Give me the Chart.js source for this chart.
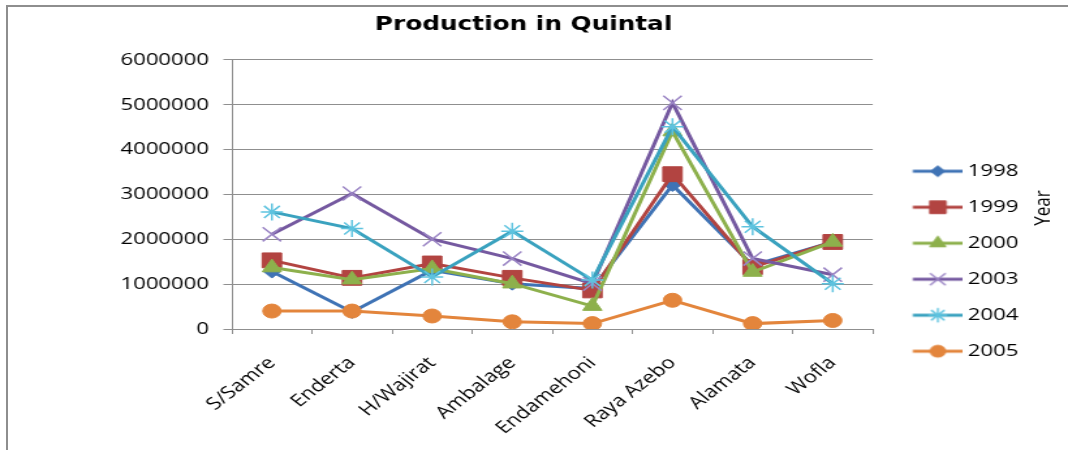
<!DOCTYPE html>
<html>
<head>
<meta charset="utf-8">
<title>Production in Quintal</title>
<script src="https://cdn.jsdelivr.net/npm/chart.js@4/dist/chart.umd.min.js"></script>
<style>
  html, body { margin: 0; padding: 0; background: #fff; }
  #wrap { position: relative; width: 1068px; height: 450px; overflow: hidden; }
  #chart { display: block; }
  .frame {
    position: absolute; left: 6px; top: 5px; right: 0; bottom: 0;
    border-top: 2px solid #8e8e8e; border-left: 2px solid #8e8e8e;
    pointer-events: none;
  }
</style>
</head>
<body>
<div id="wrap">
  <!-- the picture is drawn narrow and shown stretched, like the original -->
  <canvas id="chart" width="820" height="450" style="width:1068px;height:450px"></canvas>
  <div class="frame"></div>
</div>
<script>
/* Data */
const districts = ['S/Samre', 'Enderta', 'H/Wajirat', 'Ambalage', 'Endamehoni', 'Raya Azebo', 'Alamata', 'Wofla'];
const years = ['1998', '1999', '2000', '2003', '2004', '2005'];

const prod1998 = [1280000, 380000, 1310000, 1010000, 900000, 3210000, 1420000, 1940000];
const prod1999 = [1530000, 1140000, 1460000, 1140000, 860000, 3450000, 1380000, 1940000];
const prod2000 = [1370000, 1100000, 1350000, 1010000, 510000, 4400000, 1270000, 1940000];
const prod2003 = [2110000, 3020000, 2000000, 1570000, 1010000, 5040000, 1570000, 1210000];
const prod2004 = [2610000, 2240000, 1160000, 2180000, 1090000, 4510000, 2280000, 1010000];
const prod2005 = [400000, 400000, 290000, 160000, 120000, 640000, 120000, 190000];

const yTickLabels = ['0', '1000000', '2000000', '3000000', '4000000', '5000000', '6000000'];

/* Looks */
const FONT = 'Open Sans';
const GRID = '#8f8f8f';

const looks = [
  { line: '#3f73b5', fill: '#3f73b5', mark: '#3f73b5', style: 'rectRot', radius: 6.5, bw: 1 },
  { line: '#b24441', fill: '#b24441', mark: '#b24441', style: 'rect', radius: 10.5, bw: 1 },
  { line: '#8db04c', fill: '#8db04c', mark: '#8db04c', style: 'triangle', radius: 8.5, bw: 1 },
  { line: '#7559a0', fill: '#7559a0', mark: '#9a84c4', style: 'crossRot', radius: 10, bw: 1.5 },
  { line: '#3aa2bf', fill: '#3aa2bf', mark: '#5ec3df', style: 'star', radius: 8.5, bw: 1.5 },
  { line: '#e3853c', fill: '#e3853c', mark: '#e3853c', style: 'circle', radius: 7, bw: 1 }
];
const values = [prod1998, prod1999, prod2000, prod2003, prod2004, prod2005];

/* Legend sample: a short line with the marker on it */
function legendSample(look) {
  const c = document.createElement('canvas');
  c.width = 55;
  c.height = 22;
  const ctx = c.getContext('2d');
  ctx.strokeStyle = look.line;
  ctx.lineWidth = 3;
  ctx.beginPath();
  ctx.moveTo(16.5, 11);
  ctx.lineTo(55, 11);
  ctx.stroke();
  ctx.fillStyle = look.fill;
  ctx.strokeStyle = look.mark;
  ctx.lineWidth = look.bw;
  Chart.helpers.drawPoint(ctx, {
    pointStyle: look.style, radius: look.radius * 0.85, rotation: 0, borderWidth: look.bw
  }, 35.7, 11);
  return c;
}

/* Rotated "Year" beside the legend */
const yearTitle = {
  id: 'yearTitle',
  afterDraw(chart, args, opts) {
    const ctx = chart.ctx;
    ctx.save();
    ctx.translate(opts.x, opts.y);
    ctx.rotate(-Math.PI / 2);
    ctx.font = opts.size + 'px "' + FONT + '"';
    ctx.fillStyle = '#000';
    ctx.textAlign = 'center';
    ctx.textBaseline = 'middle';
    ctx.fillText(opts.text, 0, 0);
    ctx.restore();
  }
};

const datasets = years.map(function (year, i) {
  const look = looks[i];
  return {
    label: year,
    data: values[i],
    borderColor: look.line,
    backgroundColor: look.fill,
    borderWidth: 3,
    pointStyle: look.style,
    pointRadius: look.radius,
    pointBackgroundColor: look.fill,
    pointBorderColor: look.mark,
    pointBorderWidth: look.bw,
    tension: 0,
    order: years.length - i
  };
});

Chart.defaults.font.family = FONT;
Chart.defaults.color = '#000';

const samples = looks.map(legendSample);

new Chart(document.getElementById('chart'), {
  type: 'line',
  data: { labels: districts, datasets: datasets },
  plugins: [yearTitle],
  options: {
    responsive: false,
    devicePixelRatio: 1,
    animation: false,
    events: [],
    layout: { padding: { left: 12, right: 28, top: 0, bottom: 0 } },
    scales: {
      x: {
        offset: true,
        afterFit: function (scale) { scale.height = 121; },
        grid: { drawOnChartArea: false, drawTicks: true, tickLength: 5, offset: true, color: GRID },
        border: { color: GRID },
        ticks: { font: { size: 17 }, maxRotation: 45, minRotation: 45, autoSkip: false, padding: 19 }
      },
      y: {
        min: 0,
        max: 6000000,
        afterFit: function (scale) { scale.width = 166; },
        grid: { color: GRID, tickLength: 6.5 },
        border: { color: GRID },
        ticks: {
          stepSize: 1000000,
          padding: 11,
          font: { size: 17 },
          callback: function (v, i) { return yTickLabels[i]; }
        }
      }
    },
    plugins: {
      tooltip: { enabled: false },
      title: {
        display: true,
        text: 'Production in Quintal',
        color: '#000',
        font: { family: 'DejaVu Sans', size: 19, weight: 'bold' },
        padding: { top: 14, bottom: 23 }
      },
      legend: {
        position: 'right',
        align: 'center',
        title: { display: true, text: '', padding: { top: 58, bottom: 0 } },
        labels: {
          usePointStyle: true,
          pointStyleWidth: 45.5,
          padding: 19,
          color: '#000',
          font: { size: 17 },
          generateLabels: function (chart) {
            return chart.data.datasets.map(function (ds, i) {
              return { text: ds.label, pointStyle: samples[i], datasetIndex: i, lineWidth: 0, hidden: false };
            });
          }
        }
      },
      yearTitle: { text: 'Year', x: 801, y: 208, size: 17 }
    }
  }
});
</script>
</body>
</html>
